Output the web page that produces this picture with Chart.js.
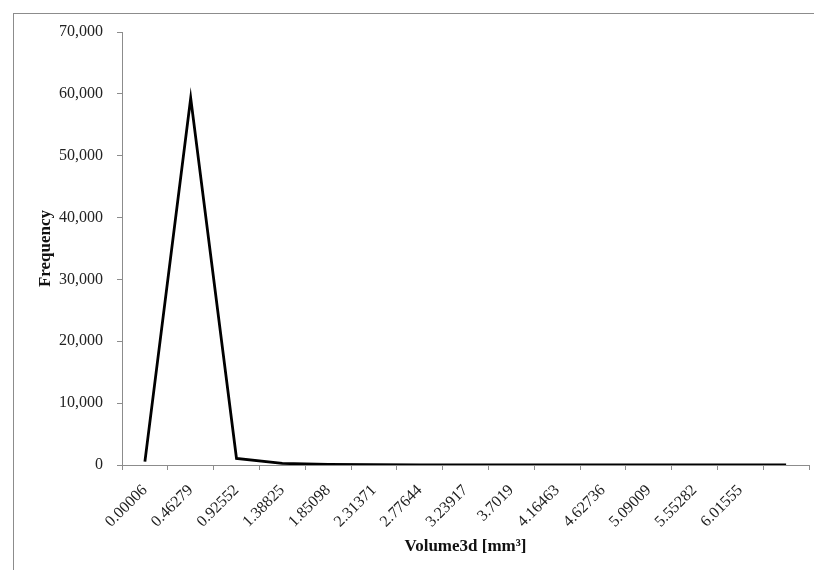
<!DOCTYPE html>
<html>
<head>
<meta charset="utf-8">
<script src="https://cdn.jsdelivr.net/npm/chart.js@4"></script>
<style>
  html, body { margin: 0; padding: 0; background: #fff; }
  #wrap { position: relative; width: 814px; height: 570px; overflow: hidden; }
  #frame { position: absolute; left: 13px; top: 13px; width: 900px; height: 700px;
           border-top: 1px solid #8c8c8c; border-left: 1px solid #8c8c8c; }
  #myChart { position: absolute; left: 0; top: 0; }
</style>
</head>
<body>
<div id="wrap">
  <div id="frame"></div>
  <canvas id="myChart" width="814" height="570"></canvas>
</div>
<script>
// bin labels (the last bin has no label in the original)
const binLabels = ['0.00006', '0.46279', '0.92552', '1.38825', '1.85098', '2.31371', '2.77644',
  '3.23917', '3.7019', '4.16463', '4.62736', '5.09009', '5.55282', '6.01555', ''];
// frequency per bin
const frequency = [550, 59300, 1050, 250, 110, 70, 30, 15, 10, 8, 5, 4, 3, 2, 1];
const yTicks = [0, 10000, 20000, 30000, 40000, 50000, 60000, 70000];

const axisGray = '#8c8c8c';
const serif = "'Liberation Serif', 'Times New Roman', serif";

const ctx = document.getElementById('myChart').getContext('2d');

const chart = new Chart(ctx, {
  type: 'line',
  data: {
    labels: binLabels,
    datasets: [{
      label: 'Frequency',
      data: frequency,
      borderColor: '#000',
      borderWidth: 2.8,
      borderJoinStyle: 'miter',
      pointRadius: 0,
      tension: 0,
      fill: false
    }]
  },
  options: {
    responsive: false,
    animation: false,
    layout: { padding: { left: 0, top: 32, right: 5, bottom: 0 } },
    plugins: {
      legend: { display: false },
      tooltip: { enabled: false }
    },
    scales: {
      x: {
        offset: true,
        grid: {
          offset: true,
          drawOnChartArea: false,
          drawTicks: true,
          tickLength: 5,
          color: axisGray
        },
        border: { color: axisGray, width: 1 },
        ticks: {
          autoSkip: false,
          maxRotation: 45,
          minRotation: 45,
          padding: 11,
          color: '#222',
          font: { family: serif, size: 16 }
        },
        title: {
          display: true,
          text: 'Volume3d [mm³]',
          color: '#111',
          font: { family: serif, size: 17, weight: 'bold' },
          padding: { top: 4, bottom: 13 }
        },
        afterFit: function(scale) { scale.height = 105; }
      },
      y: {
        min: 0,
        max: 70000,
        afterBuildTicks: function(scale) {
          scale.ticks = yTicks.map(v => ({ value: v }));
        },
        grid: {
          drawOnChartArea: false,
          drawTicks: true,
          tickLength: 5,
          color: axisGray
        },
        border: { color: axisGray, width: 1 },
        ticks: {
          padding: 14,
          color: '#222',
          font: { family: serif, size: 16 },
          callback: function(value) { return value.toLocaleString('en-US'); }
        },
        title: {
          display: true,
          text: 'Frequency',
          color: '#111',
          font: { family: serif, size: 17, weight: 'bold' },
          padding: { top: 35, bottom: 4 }
        },
        afterFit: function(scale) { scale.width = 122; }
      }
    }
  }
});
</script>
</body>
</html>
